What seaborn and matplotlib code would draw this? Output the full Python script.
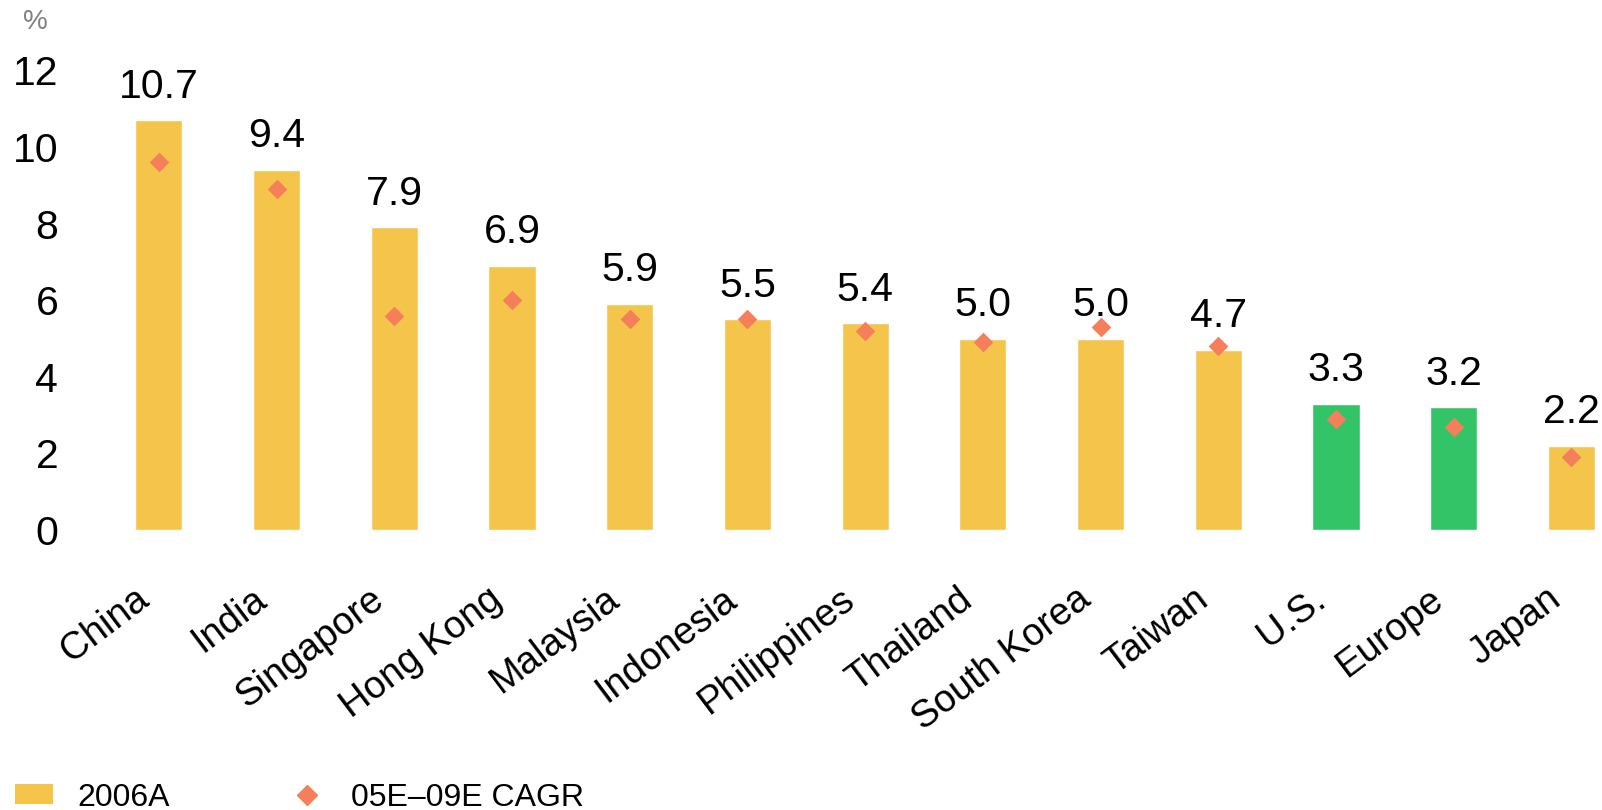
import numpy as np
import pandas as pd
import matplotlib
matplotlib.use('Agg')
import matplotlib.pyplot as plt
import matplotlib.transforms as mtransforms
from matplotlib.patches import Patch
from matplotlib.lines import Line2D
import seaborn as sns

# Data
countries = ['China', 'India', 'Singapore', 'Hong Kong', 'Malaysia', 'Indonesia',
             'Philippines', 'Thailand', 'South Korea', 'Taiwan', 'U.S.', 'Europe', 'Japan']
growth_2006 = [10.7, 9.4, 7.9, 6.9, 5.9, 5.5, 5.4, 5.0, 5.0, 4.7, 3.3, 3.2, 2.2]
cagr_05_09 = [9.6, 8.9, 5.6, 6.0, 5.5, 5.5, 5.2, 4.9, 5.3, 4.8, 2.9, 2.7, 1.9]
region = ['Asia'] * 10 + ['West', 'West', 'Asia']
y_ticks = [0, 2, 4, 6, 8, 10, 12]

YELLOW = '#F5C54B'
GREEN = '#33C468'
ORANGE = '#F47F5A'

sns.set_style('white')
plt.rcParams['font.family'] = ['Liberation Sans', 'DejaVu Sans']
plt.rcParams['text.color'] = 'black'
plt.rcParams['xtick.color'] = 'black'
plt.rcParams['ytick.color'] = 'black'

df = pd.DataFrame({'country': countries, 'actual': growth_2006,
                   'cagr': cagr_05_09, 'region': region})
bar_colors = [GREEN if r == 'West' else YELLOW for r in region]

fig = plt.figure(figsize=(16.02, 8.10), dpi=100)
W, H = 1602, 810
ax = fig.add_axes([100 / W, 280 / H, (W - 100) / W, 470 / H])

sns.barplot(data=df, x='country', y='actual', hue='country', palette=bar_colors,
            legend=False, width=0.4, saturation=1, ax=ax)
sns.stripplot(data=df, x='country', y='cagr', color=ORANGE, marker='D', size=10,
              jitter=False, ax=ax, zorder=5)

# value labels above bars
for i, v in enumerate(growth_2006):
    ax.annotate(f'{v:.1f}', xy=(i, v), xytext=(0, 10.5), textcoords='offset points',
                ha='center', va='bottom', fontsize=29.5, annotation_clip=False)

ax.set_xlim(-0.5, 12.26)
ax.set_ylim(0, 470 / 38.3)
ax.set_yticks(y_ticks)
ax.set_yticklabels([str(t) for t in y_ticks], fontsize=29.5)
ax.set_xlabel('')
ax.set_ylabel('')
ax.tick_params(axis='both', length=0)
ax.tick_params(axis='y', pad=30)
sns.despine(ax=ax, left=True, bottom=True)

offset = mtransforms.ScaledTranslation(-25 / 100, -46 / 100, fig.dpi_scale_trans)
ax.set_xticks(range(len(countries)))
ax.set_xticklabels(countries, rotation=37, ha='right', va='top',
                   rotation_mode='anchor', fontsize=27.5)
for lbl in ax.get_xticklabels():
    lbl.set_transform(lbl.get_transform() + offset)

fig.text(35 / W, 1 - 22 / H, '%', fontsize=20, color='#808080', ha='center', va='center')

handles = [Patch(facecolor=YELLOW, edgecolor='none', label='2006A'),
           Line2D([], [], marker='D', color=ORANGE, linestyle='none', markersize=10,
                  label='05E\u201309E CAGR')]
fig.legend(handles=handles, loc='lower left', bbox_to_anchor=(2 / W, -0.019), ncol=2,
           frameon=False, fontsize=23, handlelength=1.19, handleheight=0.6,
           handletextpad=0.78, columnspacing=3.7, borderaxespad=0)

plt.savefig('out.png', dpi=100)
